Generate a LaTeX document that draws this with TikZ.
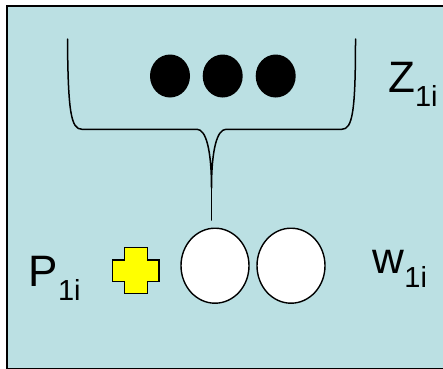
\documentclass[tikz,border=0pt]{standalone}
\usepackage{fontspec}
\setmainfont{Liberation Sans}
\usetikzlibrary{shapes.geometric}
\definecolor{panelblue}{RGB}{187,224,227}
\definecolor{crossyellow}{RGB}{255,255,0}
\newcommand{\lbl}[2]{{\fontsize{44}{44}\selectfont #1\raisebox{-14pt}{\fontsize{29}{29}\selectfont #2}}}
\begin{document}
\begin{tikzpicture}[x=1pt,y=-1pt,
  blackdot/.style={ellipse,fill=black,minimum width=40pt,minimum height=43pt,inner sep=0pt},
  whiteball/.style={ellipse,draw=black,line width=1.4pt,fill=white,minimum width=68pt,minimum height=75pt,inner sep=0pt},
  labeltext/.style={anchor=base west,inner sep=0pt},
  bracket/.style={line width=1.5pt,line cap=round,line join=round}]
\useasboundingbox (0,0) rectangle (443,368);
\begin{scope}
\clip (0,0) rectangle (443,368);
\draw[fill=panelblue,line width=2pt] (7,6) rectangle (447,368.6);
\end{scope}
% three black dots
\node[blackdot] (d1) at (170,76) {};
\node[blackdot] (d2) at (222.7,76) {};
\node[blackdot] (d3) at (275.7,76) {};
% bracket grouping the dots
\coordinate (tip) at (211.5,220);
\draw[bracket] (67.5,39) .. controls (68,112) and (71,129.3) .. (82,129.3)
  -- (197,129.3) .. controls (206,129.3) and (211.5,150) .. (211.5,188)
  .. controls (211.5,150) and (217,129.3) .. (226,129.3)
  -- (341.7,129.3) .. controls (352.5,129.3) and (355.5,112) .. (355.5,39);
\draw[bracket] (211.5,188) -- (tip);
% two white balls
\node[whiteball] (w1) at (215,265.7) {};
\node[whiteball] (w2) at (291,265.7) {};
% yellow plus sign
\draw[fill=crossyellow,line width=1.4pt,line join=miter]
  (124.3,247.7) -- (147.7,247.7) -- (147.7,260) -- (159,260) -- (159,281.7)
  -- (147.7,281.7) -- (147.7,293.3) -- (124.3,293.3) -- (124.3,281.7)
  -- (112.7,281.7) -- (112.7,260) -- (124.3,260) -- cycle;
% labels
\node[labeltext] (lz) at (388,92) {\lbl{Z}{1i}};
\node[labeltext] (lp) at (28.5,286) {\lbl{P}{1i}};
\node[labeltext] (lw) at (372.5,273) {\lbl{w}{1i}};
\end{tikzpicture}
\end{document}
